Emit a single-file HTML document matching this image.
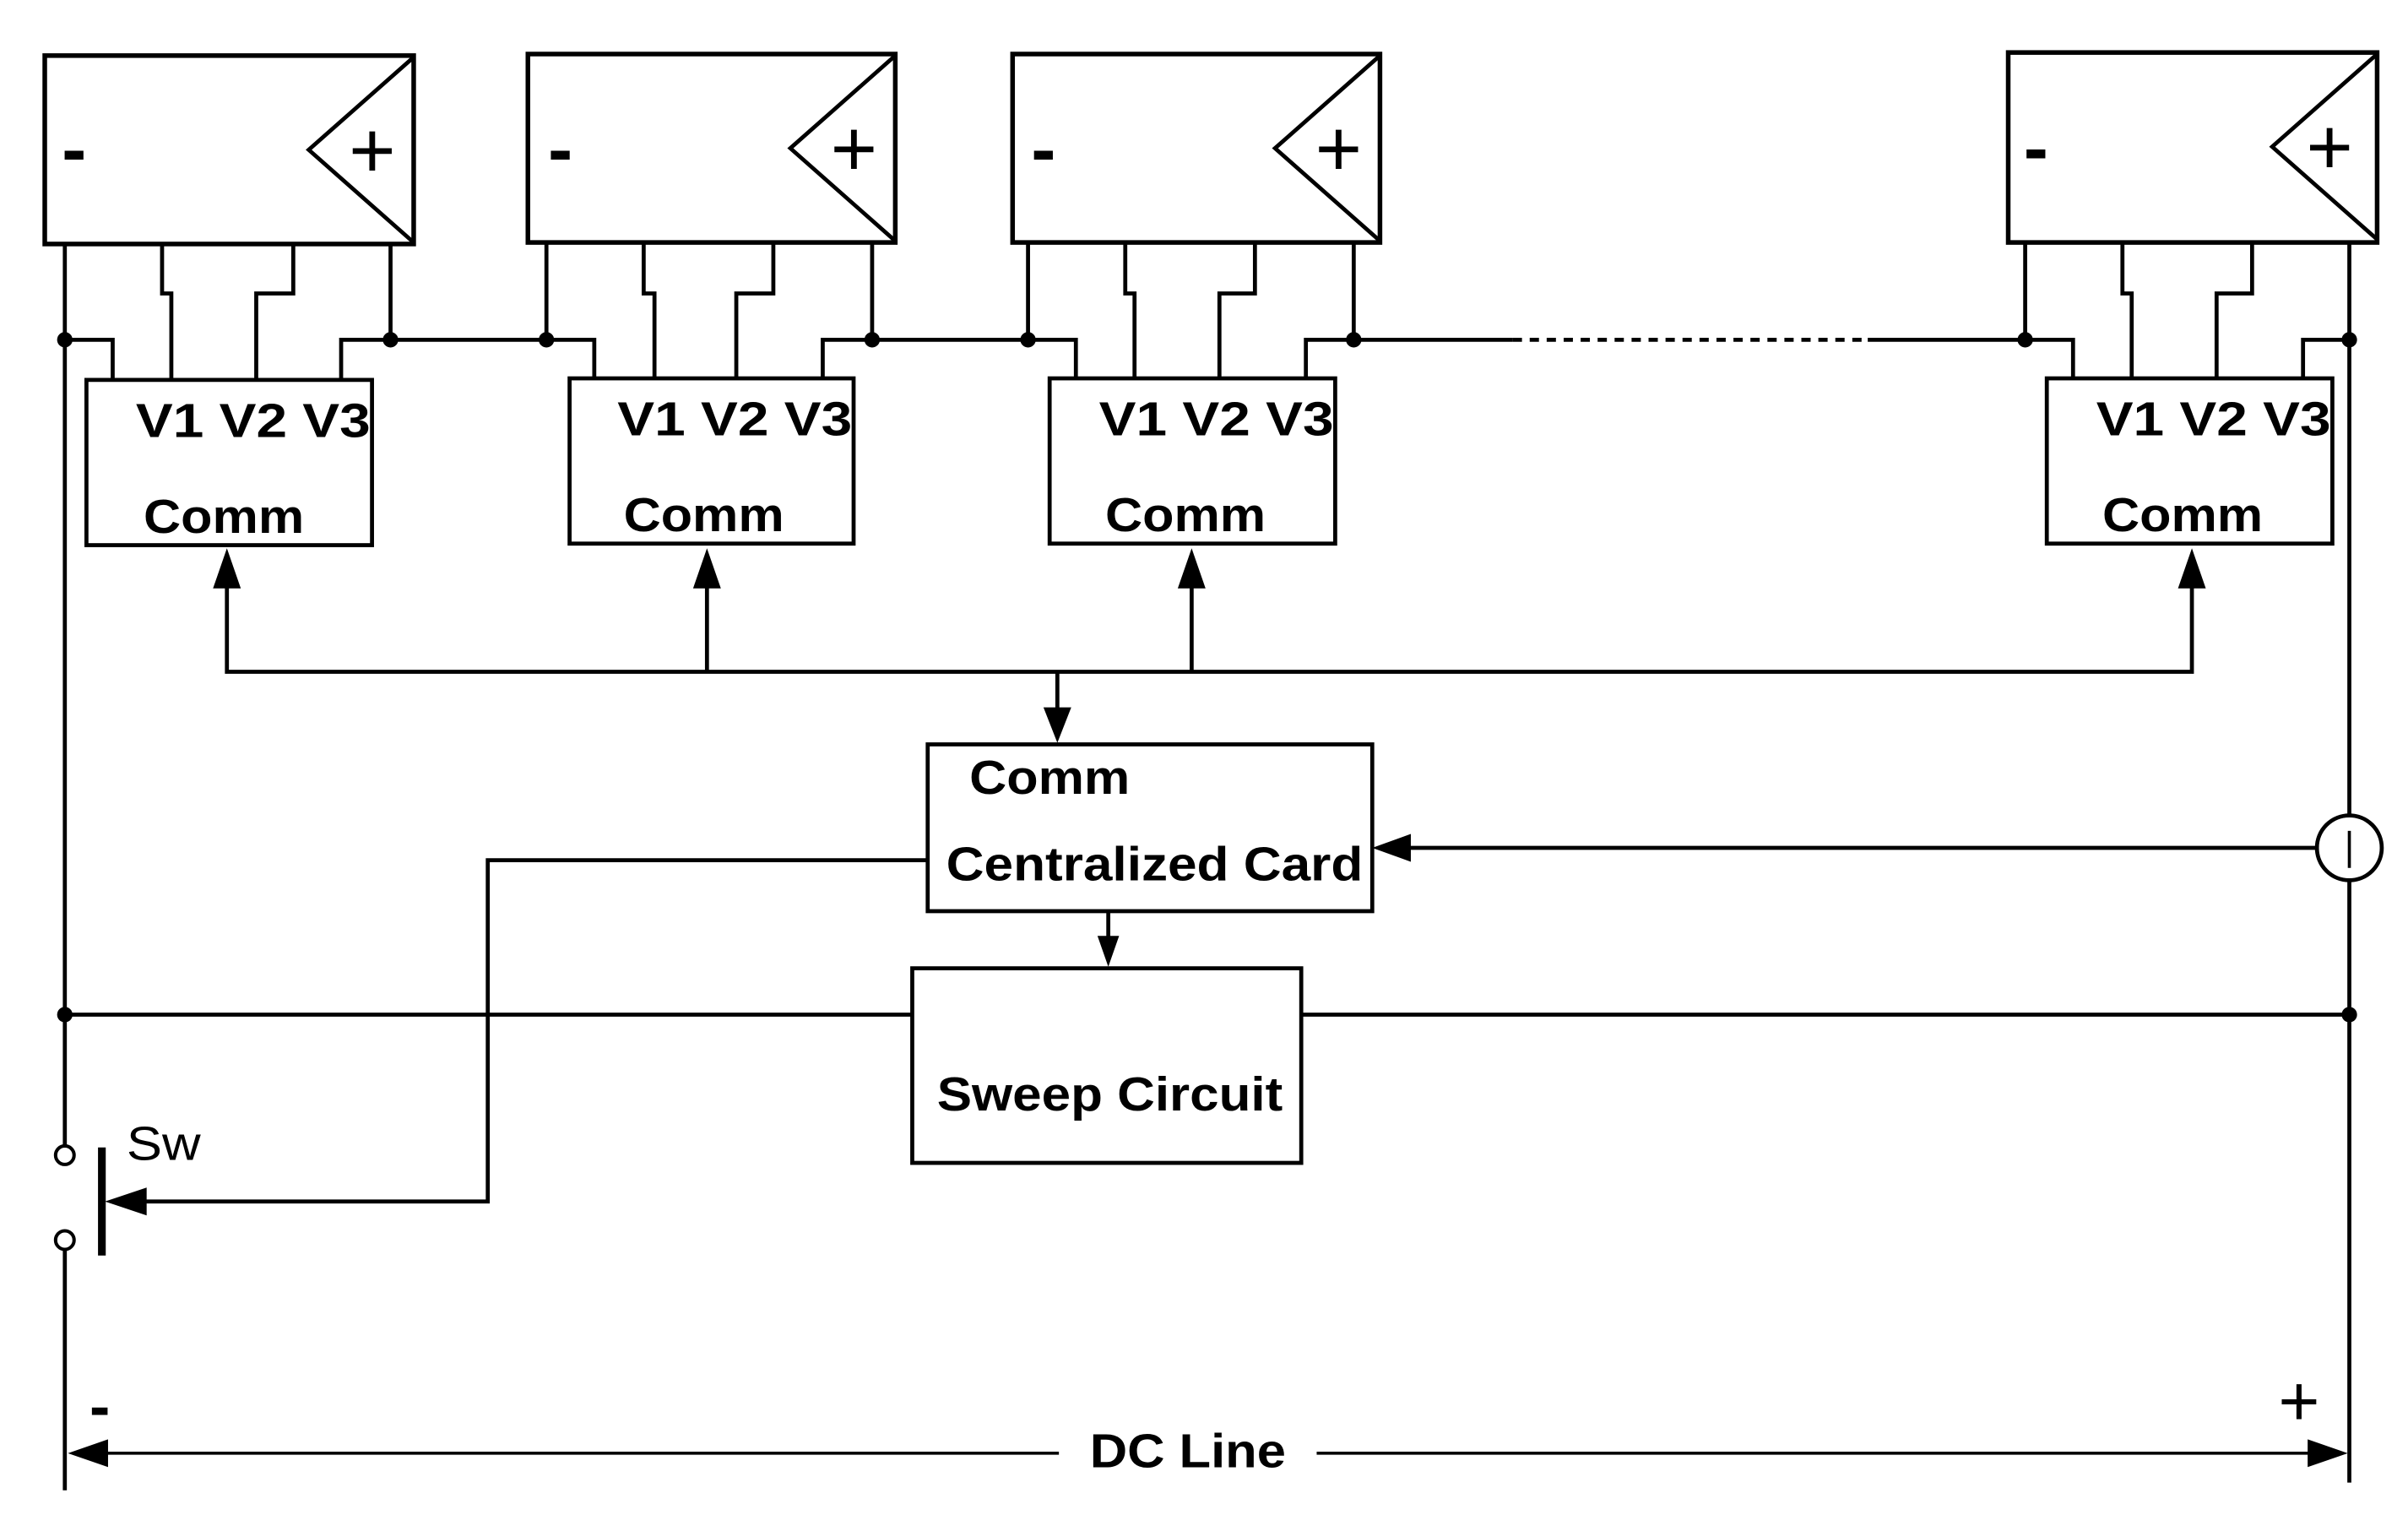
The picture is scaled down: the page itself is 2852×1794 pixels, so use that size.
<!DOCTYPE html>
<html><head><meta charset="utf-8"><style>
html,body{margin:0;padding:0;background:#fff;width:2852px;height:1794px;overflow:hidden}
svg{display:block}
text{font-family:"Liberation Sans",sans-serif;fill:#000}
.b{font-weight:bold}
</style></head><body>
<svg width="2852" height="1794" viewBox="0 0 1560 981" preserveAspectRatio="none" xmlns="http://www.w3.org/2000/svg">
<g fill="none" stroke="#000" stroke-width="2.6">
<rect x="29" y="36" width="239" height="122" stroke-width="3"/>
<polyline points="268,37 200,97 268,157"/>
<rect x="342" y="35" width="238" height="122" stroke-width="3"/>
<polyline points="580,36 512,96 580,156"/>
<rect x="656" y="35" width="238" height="122" stroke-width="3"/>
<polyline points="894,36 826,96 894,156"/>
<rect x="1301" y="34" width="239" height="123" stroke-width="3"/>
<polyline points="1540,35 1472,95 1540,155"/>
<rect x="56" y="246" width="185" height="107"/>
<rect x="369" y="245" width="184" height="107"/>
<rect x="680" y="245" width="185" height="107"/>
<rect x="1326" y="245" width="185" height="107"/>
<polyline points="105,158 105,190 111,190 111,246"/>
<polyline points="190,158 190,190 166,190 166,246"/>
<line x1="253" y1="158" x2="253" y2="220"/>
<polyline points="42,220 73,220 73,246"/>
<polyline points="253,220 221,220 221,246"/>
<line x1="253" y1="220" x2="354" y2="220"/>
<line x1="354" y1="157" x2="354" y2="220"/>
<polyline points="417,157 417,190 424,190 424,245"/>
<polyline points="501,157 501,190 477,190 477,245"/>
<line x1="565" y1="157" x2="565" y2="220"/>
<polyline points="354,220 385,220 385,245"/>
<polyline points="565,220 533,220 533,245"/>
<line x1="565" y1="220" x2="666" y2="220"/>
<line x1="666" y1="157" x2="666" y2="220"/>
<polyline points="729,157 729,190 735,190 735,245"/>
<polyline points="813,157 813,190 790,190 790,245"/>
<line x1="877" y1="157" x2="877" y2="220"/>
<polyline points="666,220 697,220 697,245"/>
<polyline points="877,220 846,220 846,245"/>
<line x1="877" y1="220" x2="980" y2="220"/>
<line x1="980" y1="220" x2="1210" y2="220" stroke-dasharray="6,5"/>
<line x1="1210" y1="220" x2="1312" y2="220"/>
<line x1="1312" y1="157" x2="1312" y2="220"/>
<polyline points="1375,157 1375,190 1381,190 1381,245"/>
<polyline points="1459,157 1459,190 1436,190 1436,245"/>
<polyline points="1312,220 1343,220 1343,245"/>
<polyline points="1522,220 1492,220 1492,245"/>
<line x1="42" y1="158" x2="42" y2="742"/>
<line x1="42" y1="809" x2="42" y2="965"/>
<line x1="1522" y1="157" x2="1522" y2="528"/>
<line x1="1522" y1="570" x2="1522" y2="960"/>
<circle cx="1522" cy="549" r="21"/>
<line x1="1522" y1="538" x2="1522" y2="562" stroke-width="2"/>
<polyline points="147,375 147,435 1420,435 1420,375"/>
<line x1="458" y1="375" x2="458" y2="435"/>
<line x1="772" y1="375" x2="772" y2="435"/>
<line x1="685" y1="435" x2="685" y2="462"/>
<rect x="601" y="482" width="288" height="108"/>
<line x1="910" y1="549" x2="1501" y2="549"/>
<polyline points="601,557 316,557 316,778 88,778"/>
<line x1="718" y1="590" x2="718" y2="608"/>
<rect x="591" y="627" width="252" height="126"/>
<line x1="42" y1="657" x2="591" y2="657"/>
<line x1="843" y1="657" x2="1522" y2="657"/>
<circle cx="42" cy="748" r="6" stroke-width="2.2"/>
<circle cx="42" cy="803" r="6" stroke-width="2.2"/>
<line x1="66" y1="743" x2="66" y2="813" stroke-width="5"/>
<line x1="64" y1="941" x2="686" y2="941" stroke-width="2"/>
<line x1="853" y1="941" x2="1500" y2="941" stroke-width="2"/>
</g>
<g fill="#000">
<circle cx="42" cy="220" r="5"/><circle cx="253" cy="220" r="5"/>
<circle cx="354" cy="220" r="5"/><circle cx="565" cy="220" r="5"/>
<circle cx="666" cy="220" r="5"/><circle cx="877" cy="220" r="5"/>
<circle cx="1312" cy="220" r="5"/><circle cx="1522" cy="220" r="5"/>
<circle cx="42" cy="657" r="5"/><circle cx="1522" cy="657" r="5"/>
<polygon points="147,355 138,381 156,381"/>
<polygon points="458,355 449,381 467,381"/>
<polygon points="772,355 763,381 781,381"/>
<polygon points="1420,355 1411,381 1429,381"/>
<polygon points="685,481 676,458 694,458"/>
<polygon points="889,549 914,540 914,558"/>
<polygon points="718,626 711,606 725,606"/>
<polygon points="68,778 95,769 95,787"/>
<polygon points="44,941 70,932 70,950"/>
<polygon points="1521,941 1495,932 1495,950"/>
</g>
<g font-size="52">
<text x="226" y="115">+</text>
<text x="538" y="114">+</text>
<text x="852" y="114">+</text>
<text x="1494" y="113">+</text>
</g>
<g font-size="48" class="b">
<text x="40" y="113">-</text>
<text x="355" y="113">-</text>
<text x="668" y="113">-</text>
<text x="1311" y="112">-</text>
</g>
<text x="1476" y="923" font-size="46">+</text>
<text x="58" y="924" font-size="40" class="b">-</text>
<g class="b" font-size="31" lengthAdjust="spacingAndGlyphs">
<text x="88" y="283" textLength="152" lengthAdjust="spacingAndGlyphs">V1 V2 V3</text><text x="93" y="345" textLength="104" lengthAdjust="spacingAndGlyphs">Comm</text>
<text x="400" y="282" textLength="152" lengthAdjust="spacingAndGlyphs">V1 V2 V3</text><text x="404" y="344" textLength="104" lengthAdjust="spacingAndGlyphs">Comm</text>
<text x="712" y="282" textLength="152" lengthAdjust="spacingAndGlyphs">V1 V2 V3</text><text x="716" y="344" textLength="104" lengthAdjust="spacingAndGlyphs">Comm</text>
<text x="1358" y="282" textLength="152" lengthAdjust="spacingAndGlyphs">V1 V2 V3</text><text x="1362" y="344" textLength="104" lengthAdjust="spacingAndGlyphs">Comm</text>
<text x="628" y="514" textLength="104" lengthAdjust="spacingAndGlyphs">Comm</text>
<text x="613" y="570" textLength="270" lengthAdjust="spacingAndGlyphs">Centralized Card</text>
<text x="607" y="719" textLength="224" lengthAdjust="spacingAndGlyphs">Sweep Circuit</text>
<text x="706" y="950" textLength="127" lengthAdjust="spacingAndGlyphs">DC Line</text>
</g>
<text x="82" y="751" font-size="31" textLength="48" lengthAdjust="spacingAndGlyphs">Sw</text>
</svg>
</body></html>
